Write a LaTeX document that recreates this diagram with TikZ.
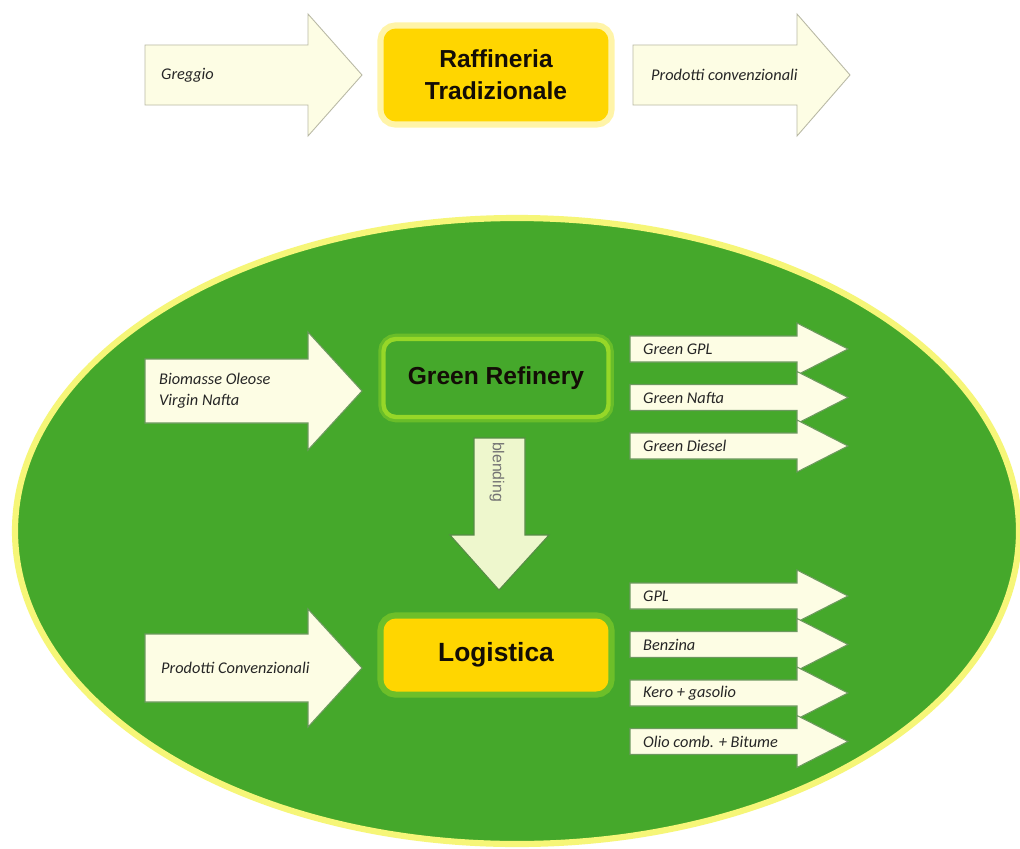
\documentclass[tikz,border=0pt]{standalone}
\usepackage{fontspec}
\setmainfont{Liberation Sans}
\newfontfamily\labelfont{Carlito}
\usepackage{tikz}
\usetikzlibrary{calc}

\definecolor{fieldgreen}{RGB}{69,168,43}
\definecolor{fieldrim}{RGB}{246,246,120}
\definecolor{boxyellow}{RGB}{255,214,0}
\definecolor{glowyellow}{RGB}{255,238,110}
\definecolor{glowgreen}{RGB}{150,215,40}
\definecolor{cream}{RGB}{253,253,228}
\definecolor{creamedge}{RGB}{185,185,165}
\definecolor{shadegreen}{RGB}{45,110,25}
\definecolor{blendfill}{RGB}{238,247,205}

\tikzset{
  blockarrow/.style={fill=cream, draw=creamedge, line width=0.5pt},
  innerarrow/.style={fill=cream, draw=shadegreen!70, line width=0.6pt},
  arrowtext/.style={anchor=west, align=left, text=black!85,
    font=\labelfont\itshape\fontsize{9.3}{12}\selectfont},
  plantbox/.style={rounded corners=7pt, align=center, text=black!90!brown,
    minimum width=4.5cm, font=\bfseries\fontsize{14}{18}\selectfont}
}

% block arrow: [style] left x, centre y, head base x, tip x, half body, half head
\newcommand{\fatarrow}[7][blockarrow]{%
  \draw[#1] (#2,#3-#6) -- (#4,#3-#6) -- (#4,#3-#7) -- (#5,#3)
    -- (#4,#3+#7) -- (#4,#3+#6) -- (#2,#3+#6) -- cycle;}

\begin{document}
\begin{tikzpicture}[x=0.02cm, y=-0.02cm]
\useasboundingbox[fill=white] (0,0) rectangle (1020,848);

% First, the traditional line on top
\fatarrow{145}{75}{308}{362}{30}{61}
\fatarrow{633}{75}{797}{850}{30}{61}
\node[arrowtext] (greggio) at (155,75) {Greggio};
\node[arrowtext] (prodconv) at (645,75) {Prodotti convenzionali};
\node[plantbox, fill=boxyellow, minimum height=1.86cm,
  preaction={draw=glowyellow, line width=7pt, opacity=0.6}] (trad) at (496,75)
  {Raffineria\\Tradizionale};

% The green field
\draw[fill=fieldgreen, draw=fieldrim, line width=3.5pt] (517,531) ellipse (502 and 313);

% Green refinery with its feed and its three products
\fatarrow[innerarrow]{145}{391}{308}{362}{32}{59}
\node[arrowtext] (biomass) at (153,391) {Biomasse Oleose\\Virgin Nafta};
\node[plantbox, fill=fieldgreen, draw=glowgreen, line width=2.5pt, minimum height=1.56cm,
  preaction={draw=glowgreen, line width=6pt, opacity=0.45}] (greenref) at (496,378)
  {Green Refinery};
\foreach \lab [count=\i] in {Green GPL, Green Nafta, Green Diesel} {
  \pgfmathsetmacro{\yy}{349+48.5*(\i-1)}
  \fatarrow[innerarrow]{630}{\yy}{797}{848}{13}{26}
  \node[arrowtext] (green\i) at (637,\yy) {\lab};
}

% blending arrow down to the logistics
\draw[fill=blendfill, draw=shadegreen!80, line width=0.6pt]
  (474,438) -- (525,438) -- (525,535) -- (549,535) -- (499,590)
  -- (450,535) -- (474,535) -- cycle;
\node[rotate=-90, text=black!55, font=\fontsize{9}{10}\selectfont] (blend) at (497,472) {blending};

% Logistics with its feed and its four products
\fatarrow[innerarrow]{145}{668}{308}{362}{34}{59}
\node[arrowtext] (prodconv2) at (155,668) {Prodotti Convenzionali};
\node[plantbox, fill=boxyellow, minimum height=1.46cm,
  preaction={draw=glowgreen, line width=7pt, opacity=0.5}] (logist) at (496,655)
  {\fontsize{15}{18}\selectfont Logistica};
\foreach \lab [count=\i] in {GPL, Benzina, Kero + gasolio, Olio comb. + Bitume} {
  \pgfmathsetmacro{\yy}{596+48.5*(\i-1)}
  \fatarrow[innerarrow]{630}{\yy}{797}{848}{13}{26}
  \node[arrowtext] (prod\i) at (637,\yy) {\lab};
}

\end{tikzpicture}
\end{document}
